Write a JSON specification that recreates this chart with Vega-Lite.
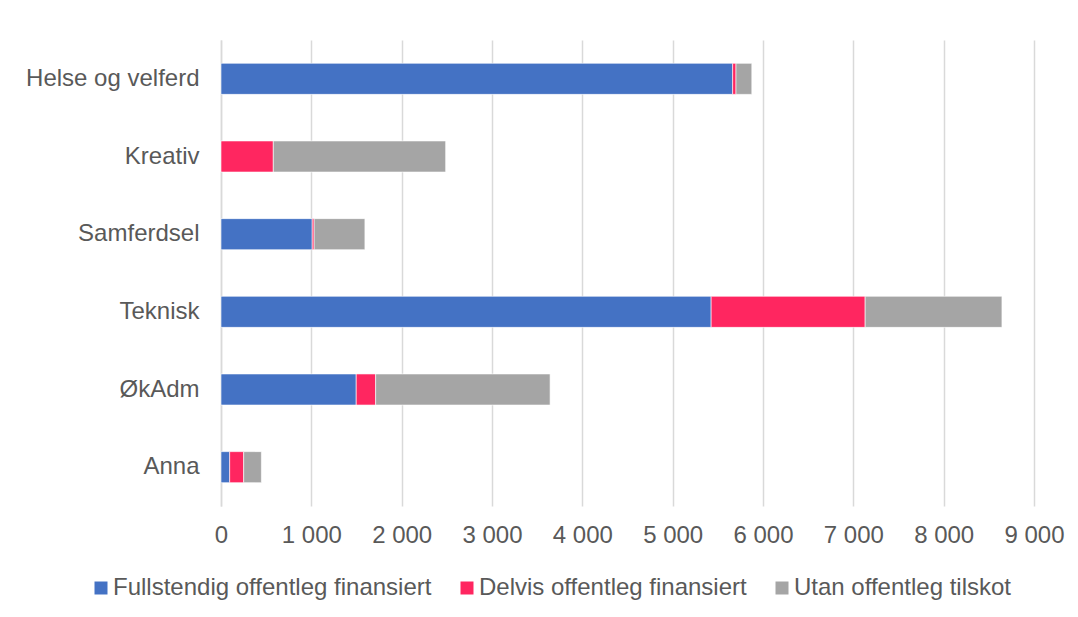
{
  "$schema": "https://vega.github.io/schema/vega-lite/v6.json",
  "width": 813,
  "height": 466,
  "autosize": {"type": "none"},
  "padding": {"left": 221, "top": 40, "right": 44, "bottom": 111},
  "background": "white",
  "data": {
    "values": [
      {"kategori": "Helse og velferd", "type": "Fullstendig offentleg finansiert", "rekkje": 1, "verdi": 5664},
      {"kategori": "Helse og velferd", "type": "Delvis offentleg finansiert", "rekkje": 2, "verdi": 37},
      {"kategori": "Helse og velferd", "type": "Utan offentleg tilskot", "rekkje": 3, "verdi": 175},
      {"kategori": "Kreativ", "type": "Fullstendig offentleg finansiert", "rekkje": 1, "verdi": 0},
      {"kategori": "Kreativ", "type": "Delvis offentleg finansiert", "rekkje": 2, "verdi": 579},
      {"kategori": "Kreativ", "type": "Utan offentleg tilskot", "rekkje": 3, "verdi": 1908},
      {"kategori": "Samferdsel", "type": "Fullstendig offentleg finansiert", "rekkje": 1, "verdi": 1010},
      {"kategori": "Samferdsel", "type": "Delvis offentleg finansiert", "rekkje": 2, "verdi": 21},
      {"kategori": "Samferdsel", "type": "Utan offentleg tilskot", "rekkje": 3, "verdi": 562},
      {"kategori": "Teknisk", "type": "Fullstendig offentleg finansiert", "rekkje": 1, "verdi": 5426},
      {"kategori": "Teknisk", "type": "Delvis offentleg finansiert", "rekkje": 2, "verdi": 1705},
      {"kategori": "Teknisk", "type": "Utan offentleg tilskot", "rekkje": 3, "verdi": 1514},
      {"kategori": "ØkAdm", "type": "Fullstendig offentleg finansiert", "rekkje": 1, "verdi": 1497},
      {"kategori": "ØkAdm", "type": "Delvis offentleg finansiert", "rekkje": 2, "verdi": 215},
      {"kategori": "ØkAdm", "type": "Utan offentleg tilskot", "rekkje": 3, "verdi": 1931},
      {"kategori": "Anna", "type": "Fullstendig offentleg finansiert", "rekkje": 1, "verdi": 96},
      {"kategori": "Anna", "type": "Delvis offentleg finansiert", "rekkje": 2, "verdi": 155},
      {"kategori": "Anna", "type": "Utan offentleg tilskot", "rekkje": 3, "verdi": 196}
    ]
  },
  "mark": {"type": "bar", "stroke": "white", "strokeWidth": 0.6},
  "encoding": {
    "y": {
      "field": "kategori",
      "type": "nominal",
      "sort": ["Helse og velferd", "Kreativ", "Samferdsel", "Teknisk", "ØkAdm", "Anna"],
      "scale": {"paddingInner": 0.6, "paddingOuter": 0.3},
      "axis": {
        "title": null,
        "ticks": false,
        "tickSize": 0,
        "labelPadding": 22,
        "labelFontSize": 24,
        "labelFont": "Liberation Sans",
        "labelColor": "#595959",
        "labelLimit": 300,
        "domain": true,
        "domainColor": "#d9d9d9",
        "domainWidth": 1.5,
        "grid": false
      }
    },
    "x": {
      "field": "verdi",
      "type": "quantitative",
      "stack": "zero",
      "scale": {"domain": [0, 9000], "nice": false},
      "axis": {
        "title": null,
        "values": [0, 1000, 2000, 3000, 4000, 5000, 6000, 7000, 8000, 9000],
        "labelExpr": "replace(format(datum.value, ','), ',', ' ')",
        "ticks": false,
        "tickSize": 0,
        "domain": false,
        "grid": true,
        "gridColor": "#d9d9d9",
        "gridWidth": 1.5,
        "labelPadding": 17,
        "labelFontSize": 24,
        "labelFont": "Liberation Sans",
        "labelColor": "#595959",
        "labelFlush": false,
        "labelOverlap": false
      }
    },
    "color": {
      "field": "type",
      "type": "nominal",
      "scale": {
        "domain": ["Fullstendig offentleg finansiert", "Delvis offentleg finansiert", "Utan offentleg tilskot"],
        "range": ["#4472C4", "#FF2660", "#A5A5A5"]
      },
      "legend": {
        "title": null,
        "orient": "none",
        "direction": "horizontal",
        "legendX": -132,
        "legendY": 536,
        "padding": 0,
        "symbolType": "square",
        "symbolSize": 169,
        "symbolStrokeWidth": 0,
        "labelOffset": 0,
        "columnPadding": 23,
        "labelFontSize": 24,
        "labelFont": "Liberation Sans",
        "labelColor": "#595959",
        "labelLimit": 500
      }
    },
    "order": {"field": "rekkje", "type": "quantitative"}
  },
  "config": {"view": {"stroke": null}}
}
